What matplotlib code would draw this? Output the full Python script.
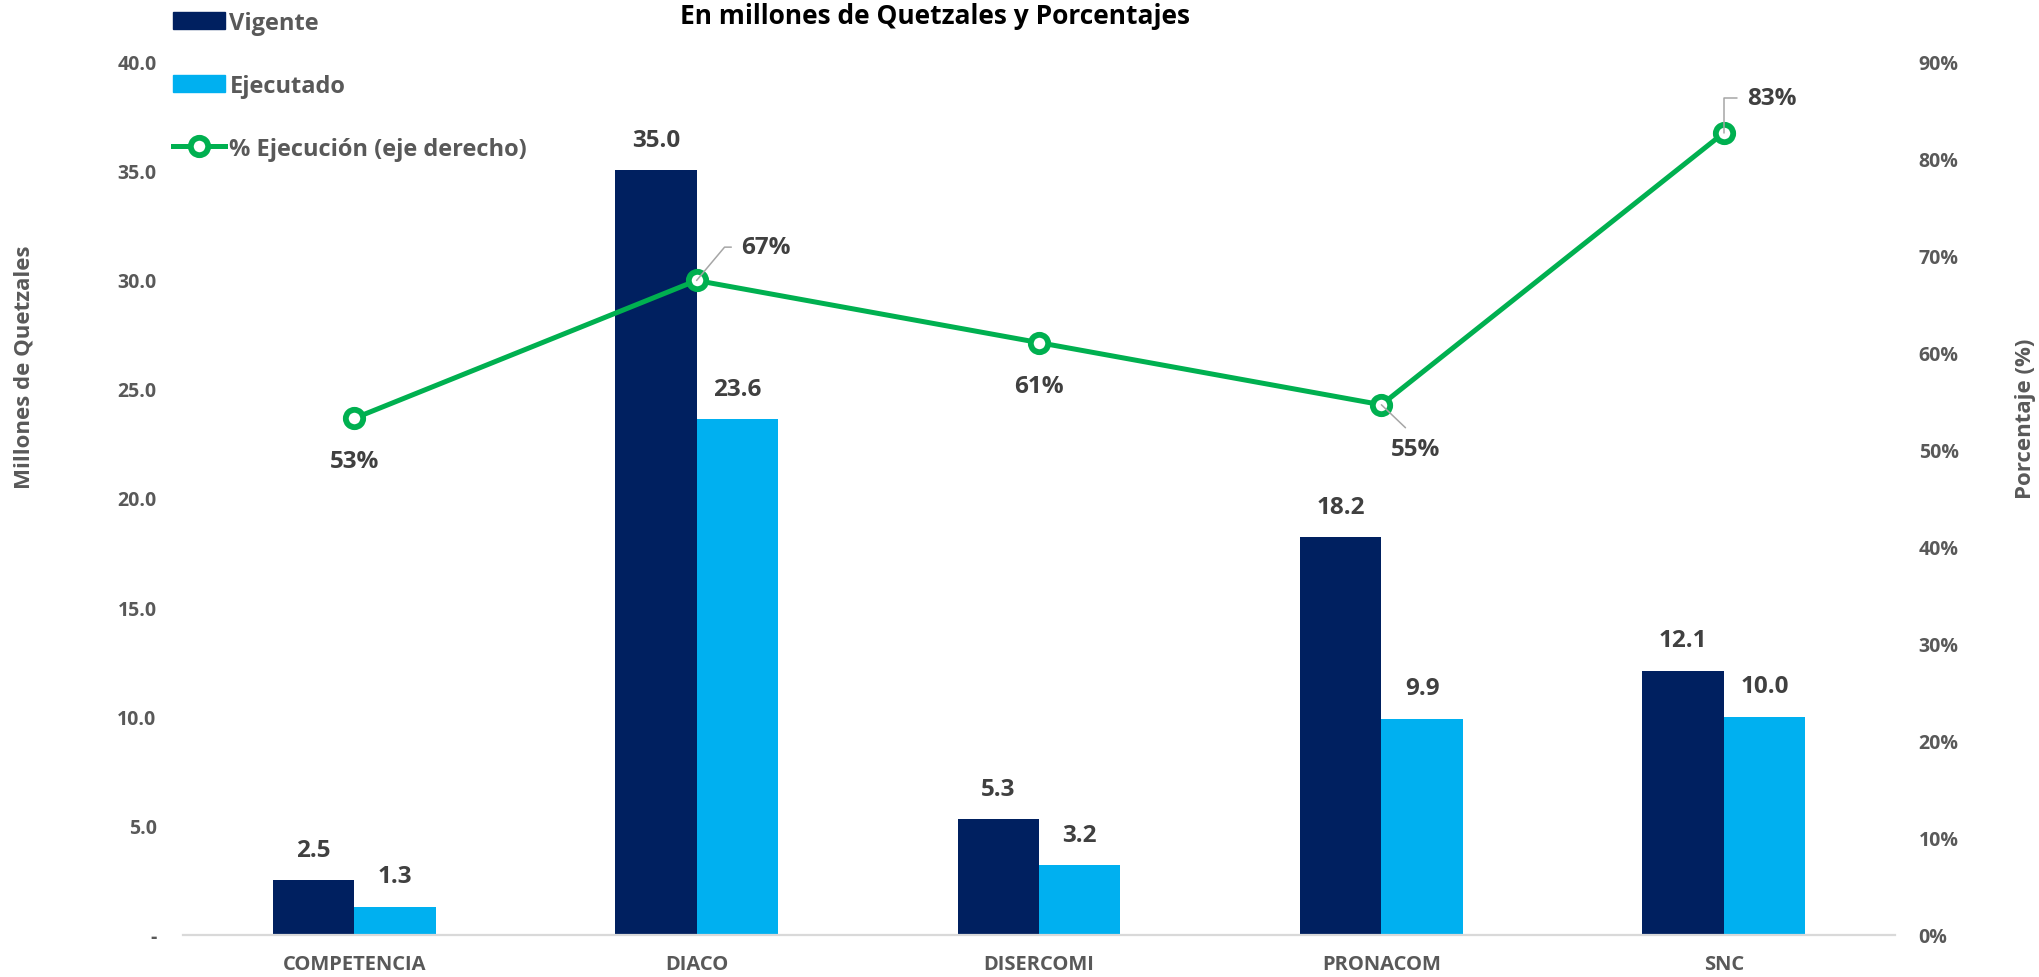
import matplotlib
matplotlib.use("Agg")
import matplotlib.pyplot as plt
from matplotlib.patches import Rectangle
from matplotlib.lines import Line2D
import numpy as np

plt.rcParams['font.family'] = ['Open Sans', 'DejaVu Sans']
plt.rcParams['font.weight'] = 'bold'

categories = ["COMPETENCIA", "DIACO", "DISERCOMI", "PRONACOM", "SNC"]
vigente = [2.5, 35.0, 5.3, 18.2, 12.1]
ejecutado = [1.3, 23.6, 3.2, 9.9, 10.0]
pct_ejec = [0.532, 0.674, 0.610, 0.546, 0.826]
pct_labels = ["53%", "67%", "61%", "55%", "83%"]
left_ticks = [0, 5, 10, 15, 20, 25, 30, 35, 40]
right_ticks = [0.0, 0.1, 0.2, 0.3, 0.4, 0.5, 0.6, 0.7, 0.8, 0.9]

C_VIG = "#002060"
C_EJE = "#00B0F0"
C_PCT = "#00B050"
C_TICK = "#595959"
C_LAB = "#404040"

W, H = 2039, 978
fig = plt.figure(figsize=(W / 100, H / 100), dpi=100)
ax = fig.add_axes([183 / W, 42 / H, (1895 - 183) / W, (936 - 62) / H])
ax2 = ax.twinx()

x = np.arange(len(categories))
bw = 0.238
b1 = ax.bar(x - bw / 2, vigente, bw, color=C_VIG, zorder=2)
b2 = ax.bar(x + bw / 2, ejecutado, bw, color=C_EJE, zorder=2)

for rect, v in zip(b1, vigente):
    ax.annotate(f"{v:.1f}", (rect.get_x() + rect.get_width() / 2, v),
                xytext=(0, 22), textcoords="offset points", ha="center", va="center",
                fontsize=17.5, color=C_LAB, fontweight="bold")
for rect, v in zip(b2, ejecutado):
    ax.annotate(f"{v:.1f}", (rect.get_x() + rect.get_width() / 2, v),
                xytext=(0, 22), textcoords="offset points", ha="center", va="center",
                fontsize=17.5, color=C_LAB, fontweight="bold")

ax.set_xlim(-0.5, len(categories) - 0.5)
ax.set_ylim(0, 40)
ax.set_yticks(left_ticks)
ax.set_yticklabels(["-" if t == 0 else f"{t:.1f}" for t in left_ticks])
ax.set_xticks(x)
ax.set_xticklabels(categories)
ax.tick_params(axis="y", length=0, pad=19, labelsize=14, labelcolor=C_TICK)
ax.tick_params(axis="x", length=0, pad=14, labelsize=14.5, labelcolor=C_TICK)
for s in ["top", "right", "left"]:
    ax.spines[s].set_visible(False)
ax.spines["bottom"].set_color("#D9D9D9")
ax.spines["bottom"].set_linewidth(1.6)

mk = dict(marker="o", markersize=12.5, markerfacecolor="white",
          markeredgecolor=C_PCT, markeredgewidth=4.2)
ax2.plot(x, pct_ejec, color=C_PCT, lw=3.6, zorder=3, **mk)
ax2.set_ylim(0, 0.9)
ax2.set_yticks(right_ticks)
ax2.set_yticklabels([f"{int(round(t * 100))}%" for t in right_ticks])
ax2.tick_params(axis="y", length=0, pad=17, labelsize=14, labelcolor=C_TICK)
for s in ["top", "right", "left", "bottom"]:
    ax2.spines[s].set_visible(False)

lead = dict(arrowstyle="-", color="#A6A6A6", lw=1.1, shrinkB=0)
pct_kw = dict(fontsize=17.5, color=C_LAB, fontweight="bold", textcoords="offset points", zorder=5)
ax2.annotate(pct_labels[0], (x[0], pct_ejec[0]), xytext=(0, -31), ha="center", va="center", **pct_kw)
ax2.annotate(pct_labels[1], (x[1], pct_ejec[1]), xytext=(32, 24), ha="left", va="center",
             arrowprops=dict(connectionstyle="angle,angleA=0,angleB=50,rad=0", relpos=(0, 0.5),
                             shrinkA=5, **lead), **pct_kw)
ax2.annotate(pct_labels[2], (x[2], pct_ejec[2]), xytext=(0, -31), ha="center", va="center", **pct_kw)
ax2.annotate(pct_labels[3], (x[3], pct_ejec[3]), xytext=(24.5, -32), ha="center", va="center",
             arrowprops=dict(connectionstyle="arc3", relpos=(0.5, 1), shrinkA=7, **lead), **pct_kw)
ax2.annotate(pct_labels[4], (x[4], pct_ejec[4]), xytext=(16.5, 25), ha="left", va="center",
             arrowprops=dict(connectionstyle="angle,angleA=0,angleB=90,rad=0", relpos=(0, 0.5),
                             shrinkA=5, **lead), **pct_kw)

fig.text(24 / W, 1 - 367 / H, "Millones de Quetzales", rotation=90, ha="center", va="center",
         fontsize=16, color=C_TICK, fontweight="bold")
fig.text(2026 / W, 1 - 419 / H, "Porcentaje (%)", rotation=90, ha="center", va="center",
         fontsize=16, color=C_TICK, fontweight="bold")

fig.text(935 / W, 1 - 17 / H, "En millones de Quetzales y Porcentajes", ha="center", va="center",
         fontsize=19, color="black", fontweight="bold")

handles = [Rectangle((0, 0), 1, 1, color=C_VIG), Rectangle((0, 0), 1, 1, color=C_EJE),
           Line2D([], [], color=C_PCT, lw=3.6, **mk)]
leg = fig.legend(handles, ["Vigente", "Ejecutado", "% Ejecución (eje derecho)"],
                 loc="upper left", bbox_to_anchor=(168 / W, 1 - 7 / H), frameon=False,
                 fontsize=17, labelspacing=1.65, handlelength=2.2, handletextpad=0.2,
                 borderaxespad=0, borderpad=0.2)
for t in leg.get_texts():
    t.set_color(C_TICK)
    t.set_fontweight("bold")

fig.savefig("out.png", dpi=100, facecolor="white")
